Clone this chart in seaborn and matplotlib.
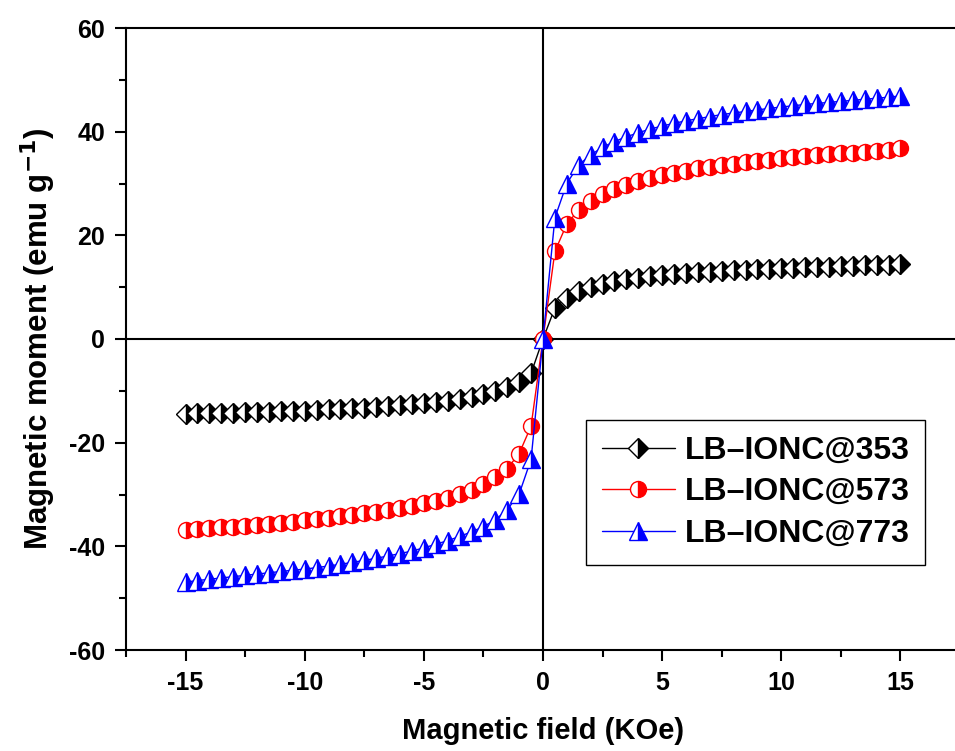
import numpy as np
import pandas as pd
import matplotlib
matplotlib.use("Agg")
import matplotlib.pyplot as plt
import seaborn as sns
from matplotlib.ticker import MultipleLocator
from matplotlib.lines import Line2D

# ---- data ----
field = [-15.0, -14.5, -14.0, -13.5, -13.0, -12.5, -12.0, -11.5, -11.0, -10.5,
         -10.0, -9.5, -9.0, -8.5, -8.0, -7.5, -7.0, -6.5, -6.0, -5.5,
         -5.0, -4.5, -4.0, -3.5, -3.0, -2.5, -2.0, -1.5, -1.0, -0.5,
         0.0,
         0.5, 1.0, 1.5, 2.0, 2.5, 3.0, 3.5, 4.0, 4.5, 5.0,
         5.5, 6.0, 6.5, 7.0, 7.5, 8.0, 8.5, 9.0, 9.5, 10.0,
         10.5, 11.0, 11.5, 12.0, 12.5, 13.0, 13.5, 14.0, 14.5, 15.0]

m353 = [-14.4, -14.35, -14.3, -14.25, -14.2, -14.15, -14.1, -14.0, -13.95, -13.9,
        -13.8, -13.7, -13.6, -13.5, -13.4, -13.25, -13.1, -12.95, -12.8, -12.6,
        -12.4, -12.2, -11.9, -11.6, -11.2, -10.7, -10.1, -9.3, -8.2, -6.6,
        0.0,
        6.0, 8.0, 9.2, 10.0, 10.6, 11.1, 11.5, 11.8, 12.1, 12.3,
        12.5, 12.7, 12.85, 13.0, 13.1, 13.25, 13.35, 13.45, 13.55, 13.65,
        13.75, 13.8, 13.9, 13.95, 14.05, 14.1, 14.2, 14.25, 14.3, 14.4]

m573 = [-36.9, -36.7, -36.5, -36.35, -36.2, -36.0, -35.85, -35.65, -35.45, -35.25,
        -35.0, -34.75, -34.5, -34.2, -33.9, -33.6, -33.3, -32.95, -32.6, -32.15,
        -31.7, -31.2, -30.6, -29.9, -29.1, -28.0, -26.7, -25.0, -22.1, -16.8,
        0.0,
        16.9, 22.2, 24.9, 26.7, 28.0, 29.0, 29.8, 30.5, 31.1, 31.6,
        32.1, 32.5, 32.9, 33.2, 33.5, 33.8, 34.1, 34.4, 34.6, 34.85,
        35.05, 35.25, 35.45, 35.6, 35.8, 35.95, 36.1, 36.3, 36.45, 36.8]

m773 = [-46.9, -46.6, -46.35, -46.1, -45.85, -45.6, -45.35, -45.1, -44.85, -44.6,
        -44.4, -44.1, -43.8, -43.45, -43.1, -42.7, -42.3, -41.85, -41.4, -40.9,
        -40.3, -39.6, -38.9, -38.1, -37.2, -36.2, -34.9, -32.9, -29.9, -23.2,
        0.0,
        23.4, 30.0, 33.6, 35.5, 37.0, 38.1, 39.0, 39.8, 40.5, 41.1,
        41.6, 42.1, 42.5, 42.9, 43.3, 43.6, 43.9, 44.2, 44.5, 44.75,
        45.0, 45.25, 45.45, 45.65, 45.85, 46.05, 46.25, 46.45, 46.65, 46.9]

labels = ["LB\u2013IONC@353", "LB\u2013IONC@573", "LB\u2013IONC@773"]
series = [m353, m573, m773]
colors = ["#000000", "#ff0000", "#0000ff"]
markers = ["D", "o", "^"]
msizes = [10.5, 11.5, 12.5]

sns.set_style("ticks")
plt.rcParams["font.family"] = ["Liberation Sans", "DejaVu Sans"]
plt.rcParams["font.weight"] = "bold"
plt.rcParams["mathtext.default"] = "bf"
plt.rcParams["axes.unicode_minus"] = False
for key in ["text.color", "axes.labelcolor", "xtick.color", "ytick.color", "axes.edgecolor"]:
    plt.rcParams[key] = "black"

fig = plt.figure(figsize=(9.55, 7.51), dpi=100)
ax = fig.add_axes([126 / 955, 1 - 650 / 751, 834 / 955, 622 / 751])

handles = []
for lab, vals, c, mk, ms in zip(labels, series, colors, markers, msizes):
    df = pd.DataFrame({"field": field, "moment": vals})
    n_before = len(ax.lines)
    sns.lineplot(data=df, x="field", y="moment", ax=ax, color=c, lw=1.0,
                 marker=mk, markersize=ms, markeredgecolor=c, markeredgewidth=1.0,
                 estimator=None, sort=False, legend=False)
    for ln in ax.lines[n_before:]:
        ln.set_fillstyle("right")
        ln.set_markerfacecolor(c)
        ln.set_markerfacecoloralt("white")
        ln.set_markeredgecolor(c)
    handles.append(Line2D([], [], color=c, lw=1.0, marker=mk, markersize=ms,
                          fillstyle="right", markerfacecolor=c,
                          markerfacecoloralt="white", markeredgecolor=c,
                          markeredgewidth=1.0))

ax.axhline(0, color="black", lw=1.5, zorder=1)
ax.axvline(0, color="black", lw=1.5, zorder=1)

ax.set_xlim(-17.5, 17.5)
ax.set_ylim(-60, 60)
ax.xaxis.set_major_locator(MultipleLocator(5))
ax.xaxis.set_minor_locator(MultipleLocator(2.5))
ax.yaxis.set_major_locator(MultipleLocator(20))
ax.yaxis.set_minor_locator(MultipleLocator(10))
ax.tick_params(which="major", direction="out", length=8, width=1.5,
               labelsize=18, top=False, right=False, colors="black", pad=7)
ax.tick_params(which="minor", direction="out", length=5, width=1.5,
               top=False, right=False, colors="black")
for lab in ax.get_xticklabels() + ax.get_yticklabels():
    lab.set_fontweight("bold")

for sp in ax.spines.values():
    sp.set_linewidth(1.5)
    sp.set_visible(True)
    sp.set_color("black")

ax.set_xlabel("Magnetic field (KOe)", fontsize=21, fontweight="bold", labelpad=16, color="black")
ax.set_ylabel("Magnetic moment (emu g$^{-1}$)", fontsize=22.5, fontweight="bold", labelpad=8, color="black")

leg = ax.legend(handles, labels, loc="upper left", bbox_to_anchor=(0.551, 0.370),
                frameon=True, fancybox=False, shadow=False, framealpha=1,
                edgecolor="black", prop={"weight": "bold", "size": 23},
                handlelength=2.3, handletextpad=0.3, labelspacing=0.36,
                borderpad=0.5, borderaxespad=0)
leg.get_frame().set_linewidth(1.0)
for t in leg.get_texts():
    t.set_color("black")

fig.savefig("out.png", dpi=100, facecolor="white")
